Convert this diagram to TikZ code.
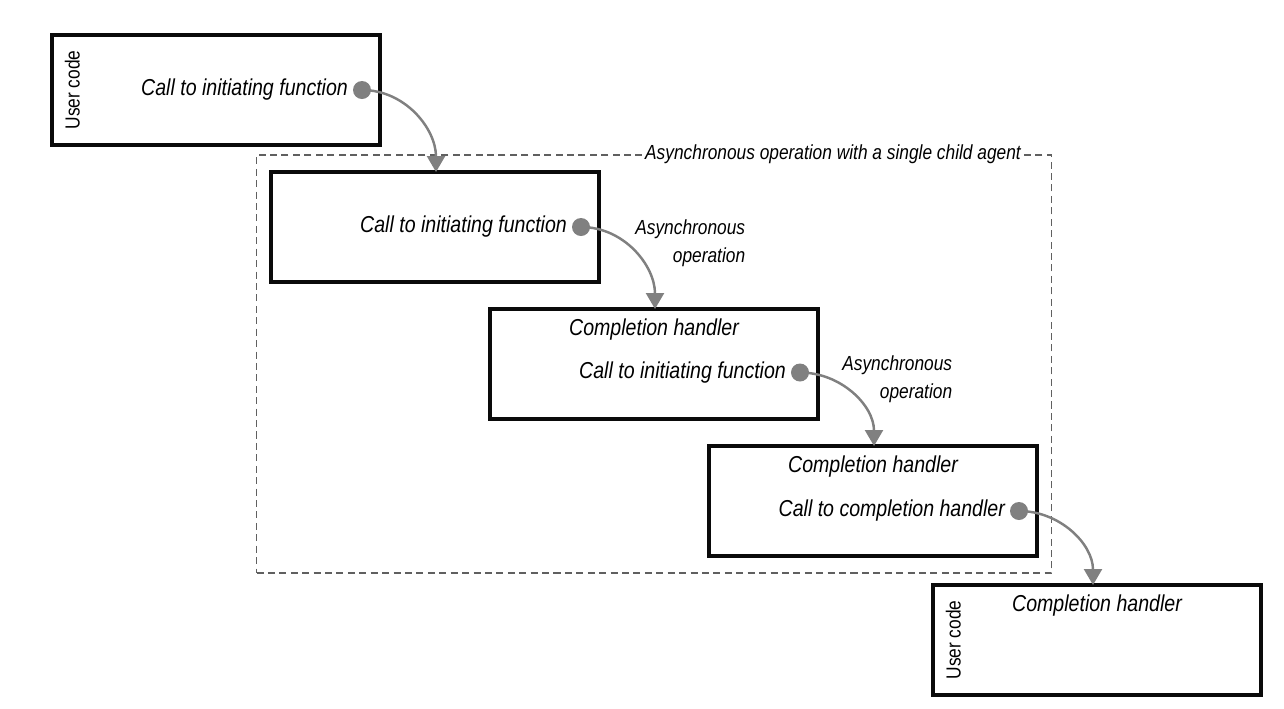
\documentclass[tikz,border=0pt]{standalone}
\usepackage{fontspec}
\setmainfont{Liberation Sans}[FakeStretch=0.85]
\usetikzlibrary{arrows.meta,positioning,fit}
\definecolor{linkgray}{RGB}{128,128,128}
\definecolor{groupgray}{RGB}{96,96,96}
\definecolor{lineblack}{RGB}{10,10,10}

\begin{document}
\begin{tikzpicture}[
  node distance=0.54cm and -2.18cm,
  box/.style={rectangle, draw=lineblack, line width=1.9pt, minimum width=6.56cm, minimum height=2.2cm, outer sep=0pt, inner sep=0pt},
  call/.style={font=\fontsize{13.1}{16}\selectfont\itshape, inner sep=1pt},
  heading/.style={font=\fontsize{13.1}{16}\selectfont\itshape, inner sep=1pt},
  usercode/.style={rotate=90, anchor=north, font=\fontsize{11.6}{14}\selectfont, inner xsep=0pt, inner ysep=0.25cm},
  dot/.style={circle, fill=linkgray, minimum size=0.36cm, inner sep=0pt, outer sep=0pt},
  async/.style={align=right, font=\fontsize{11.6}{15.9}\selectfont\itshape, inner sep=0pt},
  group/.style={draw=groupgray, dash pattern=on 4pt off 2.5pt, line width=0.8pt, inner xsep=0.29cm, inner ysep=0.34cm},
  grouplabel/.style={fill=white, font=\fontsize{11.6}{14}\selectfont\itshape, inner sep=2pt},
  link/.style={-{Triangle[length=0.32cm, width=0.36cm]}, draw=linkgray, line width=1.4pt}
]
\useasboundingbox (0,0) rectangle (25.68,-14.16);

% the five frames, stepping down to the right
\node[box, anchor=north west] (b1) at (1.04,-0.70) {};
\node[box, below right=of b1] (b2) {};
\node[box, below right=of b2] (b3) {};
\node[box, below right=of b3] (b4) {};
\node[box, below right=0.58cm and -2.08cm of b4] (b5) {};

% dashed frame round the child agent
\node[group, fit=(b2)(b4)] (grp) {};
\node[grouplabel, left=0.55cm of grp.north east] (gl) {Asynchronous operation with a single child agent};

% user code
\node[usercode] (u1) at (b1.west) {User code};
\node[usercode] (u5) at (b5.west) {User code};

% headings
\node[heading, below=0.15cm of b3.north] (h3) {Completion handler};
\node[heading, below=0.15cm of b4.north] (h4) {Completion handler};
\node[heading, below=0.15cm of b5.north] (h5) {Completion handler};

% calls
\node[dot, left=0.18cm of b1.east] (d1) {};
\node[dot, left=0.18cm of b2.east] (d2) {};
\node[dot, left=0.18cm of b3.east, yshift=-0.17cm] (d3) {};
\node[dot, left=0.18cm of b4.east, yshift=-0.2cm] (d4) {};
\node[call, left=0.06cm of d1] (c1) {Call to initiating function};
\node[call, left=0.06cm of d2] (c2) {Call to initiating function};
\node[call, left=0.06cm of d3] (c3) {Call to initiating function};
\node[call, left=0.06cm of d4] (c4) {Call to completion handler};

\node[async, right=0.9cm of d2, yshift=-0.32cm] (a2) {Asynchronous\\operation};
\node[async, right=0.66cm of d3, yshift=-0.14cm] (a3) {Asynchronous\\operation};

% arrows land on the top edge of the next frame
\coordinate[right=3.3cm of b2.north west] (t2);
\coordinate[right=3.3cm of b3.north west] (t3);
\coordinate[right=3.3cm of b4.north west] (t4);
\coordinate[right=3.2cm of b5.north west] (t5);

\draw[link] (d1.center) to[out=0, in=90] (t2);
\draw[link] (d2.center) to[out=0, in=90] (t3);
\draw[link] (d3.center) to[out=0, in=90] (t4);
\draw[link] (d4.center) to[out=0, in=90] (t5);
\end{tikzpicture}
\end{document}
